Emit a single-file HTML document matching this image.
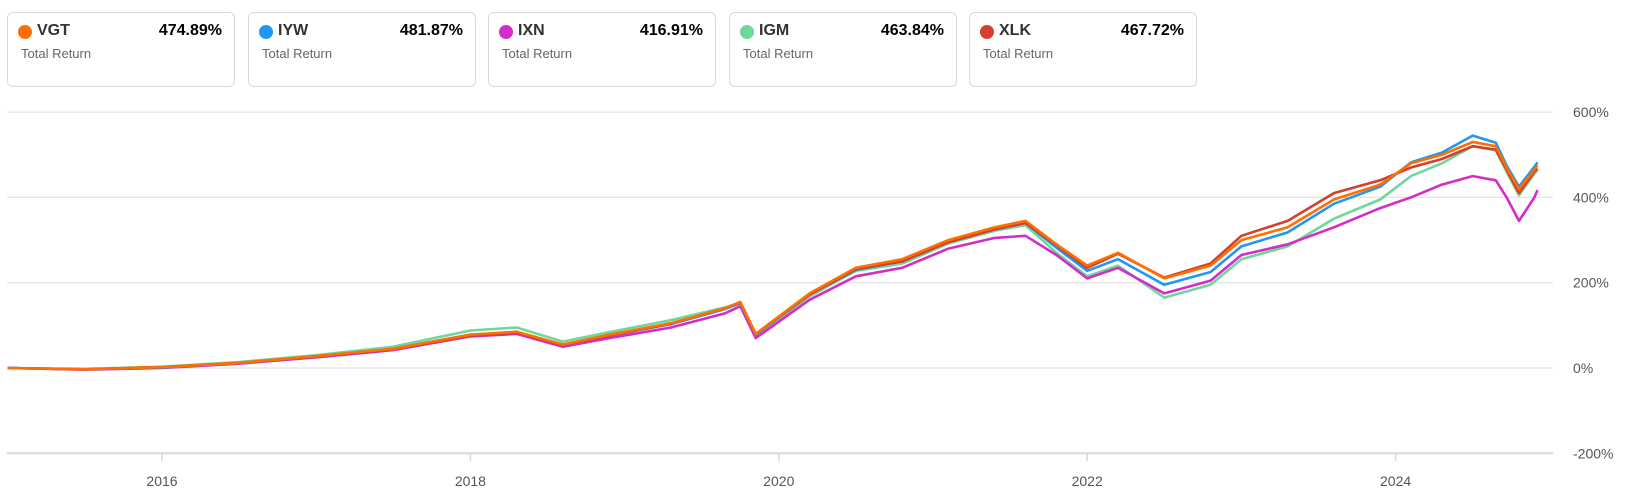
<!DOCTYPE html>
<html><head><meta charset="utf-8"><style>
body{margin:0;width:1627px;height:498px;background:#fff;font-family:"Liberation Sans",Arial,sans-serif;overflow:hidden;position:relative}
.card{position:absolute;top:12px;width:228px;height:75px;border:1px solid #d9d9d9;border-radius:6px;box-sizing:border-box}
.dot{position:absolute;left:10px;top:12px;width:14px;height:14px;border-radius:50%}
.tk{position:absolute;left:29px;top:9px;font-weight:bold;font-size:16px;color:#333}
.val{position:absolute;right:12px;top:9px;font-weight:bold;font-size:16px;color:#000}
.tr{position:absolute;left:13px;top:33px;font-size:13px;color:#666}
svg{position:absolute;left:0;top:0}
</style></head><body>
<div class="card" style="left:7px"><div class="dot" style="background:#ff6f00"></div><div class="tk">VGT</div><div class="val">474.89%</div><div class="tr">Total Return</div></div>
<div class="card" style="left:248px"><div class="dot" style="background:#2196f3"></div><div class="tk">IYW</div><div class="val">481.87%</div><div class="tr">Total Return</div></div>
<div class="card" style="left:488px"><div class="dot" style="background:#d42cc8"></div><div class="tk">IXN</div><div class="val">416.91%</div><div class="tr">Total Return</div></div>
<div class="card" style="left:729px"><div class="dot" style="background:#6ed79a"></div><div class="tk">IGM</div><div class="val">463.84%</div><div class="tr">Total Return</div></div>
<div class="card" style="left:969px"><div class="dot" style="background:#d43f2f"></div><div class="tk">XLK</div><div class="val">467.72%</div><div class="tr">Total Return</div></div>
<svg id="chart" width="1627" height="498"></svg>
<script>
const yTicks=[600,400,200,0,-200];
const xTickYears=[2016,2018,2020,2022,2024];
const dates=[2015.0,2015.5,2016.0,2016.5,2017.0,2017.5,2018.0,2018.3,2018.6,2018.9,2019.3,2019.65,2019.75,2019.85,2020.2,2020.5,2020.8,2021.1,2021.4,2021.6,2021.8,2022.0,2022.2,2022.5,2022.8,2023.0,2023.3,2023.6,2023.9,2024.1,2024.3,2024.5,2024.65,2024.72,2024.8,2024.9,2024.92];
const vgt=[0,-3,2,12,28,45,78,85,55,78,105,140,155,80,175,235,255,300,330,345,290,240,270,210,240,300,330,395,430,480,500,530,520,470,420,465,475];
const iyw=[0,-3,1,12,27,45,78,84,54,76,103,138,152,78,172,230,250,296,325,340,282,228,255,195,225,285,318,385,425,482,505,545,528,475,425,472,482];
const ixn=[0,-4,0,10,25,42,74,80,50,70,95,128,145,70,160,215,235,280,305,310,265,210,235,175,205,265,290,330,375,400,430,450,440,400,345,400,417];
const igm=[0,-2,3,14,30,50,88,95,62,84,112,142,152,75,168,228,245,292,322,335,270,215,240,165,195,255,285,350,395,450,480,520,510,460,405,455,464];
const xlk=[0,-3,2,12,27,44,76,83,54,76,104,140,154,80,172,232,250,295,325,340,288,235,268,212,245,310,345,410,440,470,490,520,512,465,410,460,468];
const svg=document.getElementById('chart');
const NS='http://www.w3.org/2000/svg';
const yS=v=>368-v*(85.3/200);
const xS=d=>162+(d-2016)*154.2;
function mk(t,a){const e=document.createElementNS(NS,t);for(const k in a)e.setAttribute(k,a[k]);svg.appendChild(e);return e;}
yTicks.forEach(v=>{
 const l=mk('line',{x1:7,x2:1553,y1:yS(v),y2:yS(v),stroke:v===-200?'#d8d8d8':'#e3e3e3','stroke-width':v===-200?2:1.2});
 
 
 const t=mk('text',{x:1573,y:yS(v)+5,'font-size':14,fill:'#555','font-family':'Liberation Sans, sans-serif'});
 t.textContent=v+'%';
 
 
});
xTickYears.forEach(y=>{
 const l=mk('line',{x1:xS(y),x2:xS(y),y1:453,y2:461,stroke:'#d8d8d8','stroke-width':1.5});
 
 
 const t=mk('text',{x:xS(y),y:486,'font-size':14,fill:'#555','text-anchor':'middle','font-family':'Liberation Sans, sans-serif'});
 t.textContent=y;
 
 
});
[['igm',igm,'#6ed79a'],['ixn',ixn,'#d42cc8'],['iyw',iyw,'#2196f3'],['xlk',xlk,'#d43f2f'],['vgt',vgt,'#ff6f00']].forEach(([n,arr,c])=>{
 const d=arr.map((v,i)=>(i?'L':'M')+xS(dates[i]).toFixed(1)+' '+yS(v).toFixed(1)).join(' ');
 const p=mk('path',{d:d,fill:'none',stroke:c,'stroke-width':2.6,'stroke-linejoin':'round'});
 
 
});
</script>
</body></html>
